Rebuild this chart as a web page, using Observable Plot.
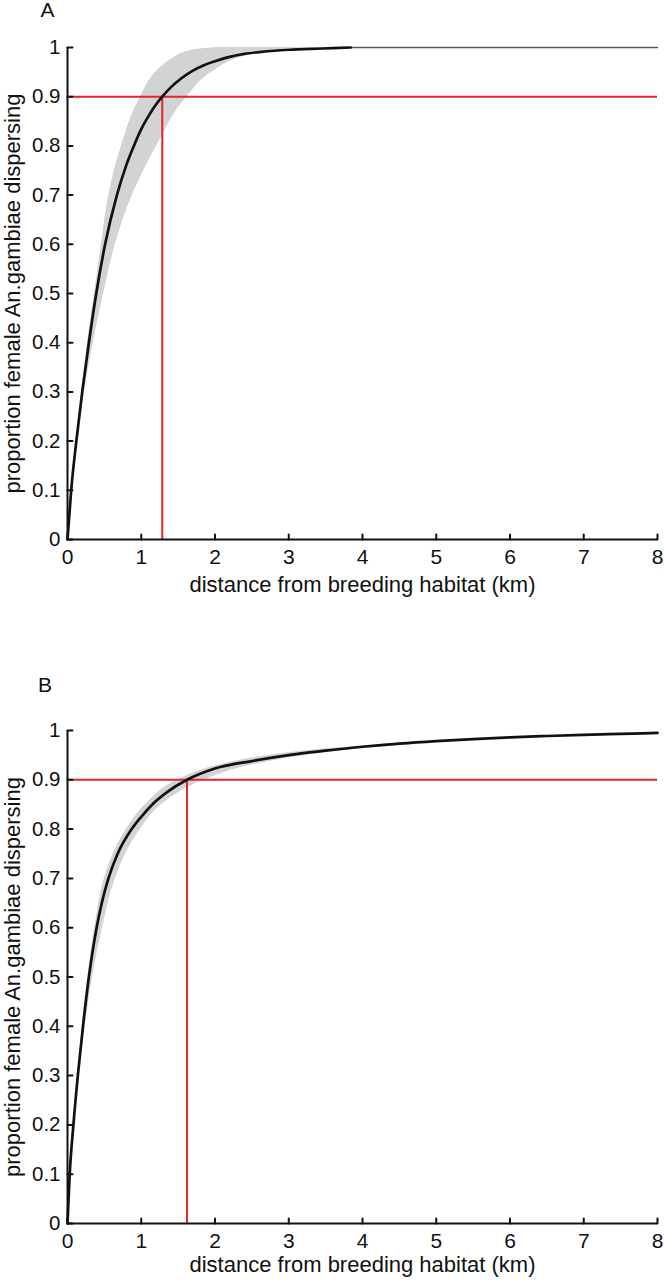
<!DOCTYPE html>
<html>
<head>
<meta charset="utf-8">
<script src="https://cdn.jsdelivr.net/npm/d3@7"></script>
<script src="https://cdn.jsdelivr.net/npm/@observablehq/plot@0.6"></script>
<style>
  html, body { margin: 0; padding: 0; background: #fff; }
  #chart { width: 664px; }
  #chart svg { display: block; }
</style>
</head>
<body>
<div id="chart"></div>
<script>
// ---- tick values & labels ----
const xTicks = [0, 1, 2, 3, 4, 5, 6, 7, 8];
const xTickLabels = ["0", "1", "2", "3", "4", "5", "6", "7", "8"];
const yTicks = [0, 0.1, 0.2, 0.3, 0.4, 0.5, 0.6, 0.7, 0.8, 0.9, 1];
const yTickLabels = ["0", "0.1", "0.2", "0.3", "0.4", "0.5", "0.6", "0.7", "0.8", "0.9", "1"];

const xTitle = "distance from breeding habitat (km)";
const yTitle = "proportion female An.gambiae dispersing";
const panelLetters = ["A", "B"];

// ---- reference level (90% dispersing) ----
const levelY = [0.9];
const crossA = [1.285];
const crossB = [1.62];

// ---- Panel A: central curve ----
const curveAx = [0, 0.05, 0.12, 0.2, 0.29, 0.39, 0.51, 0.67, 0.8, 0.9, 1.0, 1.1, 1.2, 1.285, 1.4, 1.55, 1.7, 1.85, 2.0, 2.2, 2.4, 2.6, 2.8, 3.0, 3.3, 3.6, 3.84];
const curveAy = [0, 0.1, 0.2, 0.3, 0.4, 0.5, 0.6, 0.7, 0.762, 0.8, 0.834, 0.861, 0.884, 0.9, 0.919, 0.938, 0.953, 0.964, 0.972, 0.981, 0.987, 0.9905, 0.9934, 0.9954, 0.9973, 0.9986, 1.0];
// thin continuation at 1
const tailAx = [3.84, 8];
const tailAy = [1, 1];

// ---- Panel A: uncertainty band (by proportion level) ----
const bandAy     = [0, 0.1, 0.2, 0.3, 0.4, 0.5, 0.6, 0.7, 0.8, 0.9, 0.95, 0.98, 0.99, 0.997, 1.0];
const bandAleft  = [0, 0.05, 0.115, 0.19, 0.27, 0.365, 0.46, 0.56, 0.73, 0.99, 1.2, 1.45, 1.58, 1.8, 2.05];
const bandAright = [0, 0.055, 0.135, 0.23, 0.35, 0.49, 0.65, 0.88, 1.21, 1.62, 1.96, 2.35, 2.6, 2.95, 3.3];

// ---- Panel B: central curve ----
const curveBx = [0, 0.03, 0.08, 0.14, 0.21, 0.29, 0.338, 0.395, 0.465, 0.555, 0.68, 0.87, 1.0, 1.15, 1.35, 1.62, 2.0, 2.5, 3.0, 3.5, 4.0, 4.5, 5.0, 5.5, 6.0, 6.5, 7.0, 7.5, 8.0];
const curveBy = [0, 0.1, 0.2, 0.3, 0.4, 0.5, 0.55, 0.6, 0.65, 0.7, 0.75, 0.8, 0.825, 0.85, 0.875, 0.9, 0.923, 0.938, 0.95, 0.959, 0.967, 0.9735, 0.9785, 0.9825, 0.986, 0.9888, 0.9912, 0.9932, 0.995];

// ---- Panel B: uncertainty band ----
const bandBy     = [0, 0.1, 0.2, 0.3, 0.4, 0.5, 0.6, 0.7, 0.75, 0.8, 0.85, 0.9, 0.93, 0.95, 0.96, 0.967, 0.972];
const bandBleft  = [0, 0.03, 0.078, 0.135, 0.2, 0.275, 0.37, 0.5, 0.62, 0.8, 1.06, 1.5, 2.05, 2.75, 3.3, 3.85, 4.4];
const bandBright = [0, 0.033, 0.09, 0.155, 0.24, 0.34, 0.475, 0.65, 0.79, 0.99, 1.28, 1.86, 2.5, 3.25, 3.8, 4.3, 4.8];

const zip2 = (xs, ys) => xs.map((x, i) => ({x, y: ys[i]}));
const zipBand = (ys, l, r) => ys.map((y, i) => ({y, x1: l[i], x2: r[i]}));

const FONT = "'Liberation Sans', Arial, Helvetica, sans-serif";
const RED = "#e2242b";
const BAND = "#d1d3d4";
const INK = "#111";
const tickShape = {draw(context, l) { context.moveTo(0, 0); context.lineTo(0, -l); }};

function panel({letter, curve, tail, band, cross, height, marginTop, marginBottom, letterDx, letterDy, titleDy}) {
  const x0 = xTicks[0], x1 = xTicks[xTicks.length - 1];
  const y0 = yTicks[0], y1 = yTicks[yTicks.length - 1];
  const marks = [
    Plot.areaX(band, {y: "y", x1: "x1", x2: "x2", fill: BAND, curve: "monotone-y"}),
    Plot.ruleY(levelY, {x1: x0, x2: x1, stroke: RED, strokeWidth: 2}),
    Plot.ruleX(cross, {y1: y0, y2: levelY[0], stroke: RED, strokeWidth: 2}),
  ];
  if (tail) marks.push(Plot.line(tail, {x: "x", y: "y", stroke: "#555", strokeWidth: 1.3}));
  marks.push(
    Plot.line(curve, {x: "x", y: "y", stroke: INK, strokeWidth: 2.7, curve: "monotone-x"}),
    // axis lines
    Plot.ruleX([x0], {y1: y0, y2: y1, stroke: INK, strokeWidth: 2}),
    Plot.ruleY([y0], {x1: x0, x2: x1, stroke: INK, strokeWidth: 2}),
    // inward ticks
    Plot.vector(yTicks, {x: x0, y: d => d, length: 5, rotate: 90, anchor: "start", shape: tickShape, stroke: INK, strokeWidth: 2}),
    Plot.vector(xTicks, {x: d => d, y: y0, length: 5, rotate: 0, anchor: "start", shape: tickShape, stroke: INK, strokeWidth: 2}),
    // tick labels
    Plot.text(yTicks, {x: x0, y: d => d, text: (d, i) => yTickLabels[i], textAnchor: "end", lineAnchor: "middle", dx: -7, fontSize: 20.5, fill: INK}),
    Plot.text(xTicks, {x: d => d, y: y0, text: (d, i) => xTickLabels[i], textAnchor: "middle", lineAnchor: "middle", dy: 18, fontSize: 21, fill: INK}),
    // titles
    Plot.text([yTitle], {frameAnchor: "left", dx: -55, rotate: -90, textAnchor: "middle", lineAnchor: "middle", fontSize: 22, fill: INK}),
    Plot.text([xTitle], {frameAnchor: "bottom", dy: titleDy, textAnchor: "middle", lineAnchor: "middle", fontSize: 22, fill: INK}),
    Plot.text([letter], {frameAnchor: "top-left", dx: letterDx, dy: letterDy, textAnchor: "middle", lineAnchor: "middle", fontSize: 21, fill: INK})
  );
  return Plot.plot({
    width: 664,
    height,
    marginLeft: 67,
    marginRight: 7,
    marginTop,
    marginBottom,
    x: {domain: [x0, x1], axis: null},
    y: {domain: [y0, y1], axis: null},
    style: {fontFamily: FONT, background: "#fff", overflow: "visible", color: INK},
    marks
  });
}

const chart = document.getElementById("chart");
chart.appendChild(panel({
  letter: panelLetters[0],
  curve: zip2(curveAx, curveAy),
  tail: zip2(tailAx, tailAy),
  band: zipBand(bandAy, bandAleft, bandAright),
  cross: crossA,
  height: 640, marginTop: 47, marginBottom: 101,
  letterDx: -20, letterDy: -37, titleDy: 45
}));
chart.appendChild(panel({
  letter: panelLetters[1],
  curve: zip2(curveBx, curveBy),
  tail: null,
  band: zipBand(bandBy, bandBleft, bandBright),
  cross: crossB,
  height: 641, marginTop: 90, marginBottom: 58,
  letterDx: -22.5, letterDy: -45.5, titleDy: 41
}));
</script>
</body>
</html>
